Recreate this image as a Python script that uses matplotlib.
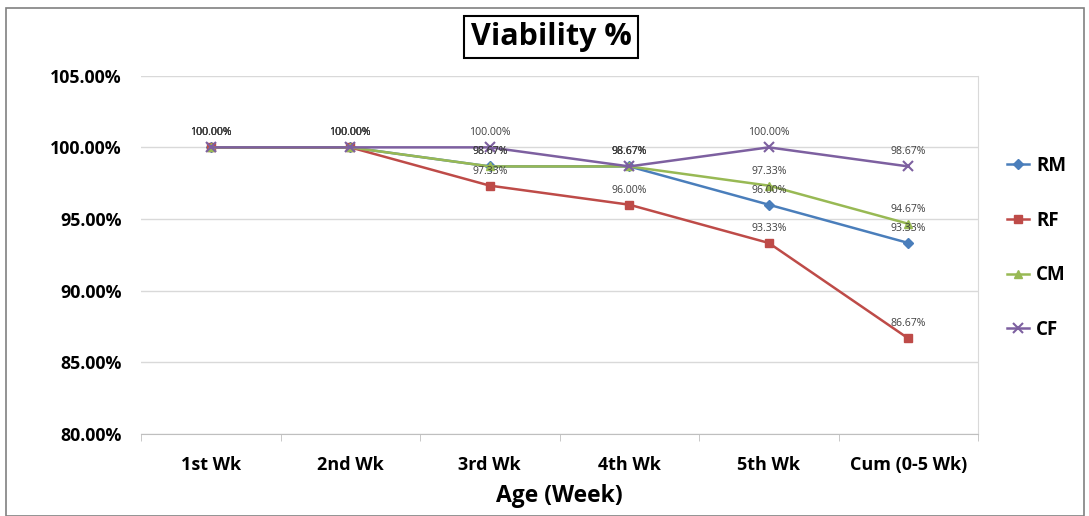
import numpy as np
import matplotlib.pyplot as plt
from matplotlib.patches import Rectangle

plt.rcParams['font.family'] = ['Open Sans', 'DejaVu Sans']

weeks = ['1st Wk', '2nd Wk', '3rd Wk', '4th Wk', '5th Wk', 'Cum (0-5 Wk)']
rm = [100.00, 100.00, 98.67, 98.67, 96.00, 93.33]
rf = [100.00, 100.00, 97.33, 96.00, 93.33, 86.67]
cm = [100.00, 100.00, 98.67, 98.67, 97.33, 94.67]
cf = [100.00, 100.00, 100.00, 98.67, 100.00, 98.67]

series = [('RM', rm, '#4a7ebb', 'D', 5),
          ('RF', rf, '#be4b48', 's', 6),
          ('CM', cm, '#98b954', '^', 6),
          ('CF', cf, '#7d60a0', 'x', 7)]

fig = plt.figure(figsize=(10.89, 5.16), dpi=100)
ax = fig.add_axes([141/1089, 1 - 434/516, (978-141)/1089, (434-75.7)/516])

x = np.arange(len(weeks))
for name, vals, col, mk, ms in series:
    ax.plot(x, vals, color=col, marker=mk, markersize=ms, lw=1.8,
            mew=1.5 if mk == 'x' else 1, label=name)
    for xi, v in zip(x, vals):
        ax.annotate('%.2f%%' % v, (xi, v), xytext=(0, 10.5),
                    textcoords='offset points', ha='center', va='center',
                    fontsize=7.6, color='#404040')

ax.set_xlim(-0.5, len(weeks) - 0.5)
ax.set_ylim(80, 105)
ax.set_yticks(np.arange(80, 105.1, 5))
ax.set_yticklabels(['%.2f%%' % v for v in np.arange(80, 105.1, 5)],
                   fontsize=12.8, fontweight='bold')
ax.tick_params(axis='y', length=0, pad=14)
ax.set_xticks(x)
ax.set_xticklabels(weeks, fontsize=13, fontweight='bold')
ax.set_xticks(np.arange(-0.5, len(weeks)), minor=True)
ax.tick_params(axis='x', which='major', length=0, pad=16)
ax.tick_params(axis='x', which='minor', length=5, color='#bfbfbf')
ax.grid(axis='y', color='#d9d9d9', lw=1)
ax.set_axisbelow(True)
for s in ['left', 'top']:
    ax.spines[s].set_visible(False)
ax.spines['bottom'].set_color('#bfbfbf')
ax.spines['right'].set_color('#d9d9d9')

ax.set_xlabel('Age (Week)', fontsize=16.5, fontweight='bold', labelpad=7)

ax.legend(loc='upper left', bbox_to_anchor=(990/1089, 1 - 139/516),
          bbox_transform=fig.transFigure, frameon=False,
          prop={'size': 13.5, 'weight': 'bold'}, handlelength=1.2,
          labelspacing=1.85, handletextpad=0.35)

fig.text(551/1089, 1 - 37/516, 'Viability %', ha='center', va='center',
         fontsize=22, fontweight='bold',
         bbox=dict(boxstyle='square,pad=0.2', fc='white', ec='black', lw=1.5))

fig.patches.append(Rectangle((6/1089, 0), 1078/1089, 1 - 8/516,
                             transform=fig.transFigure, fill=False,
                             ec='#808080', lw=1.2))

fig.savefig('out.png', dpi=100)
